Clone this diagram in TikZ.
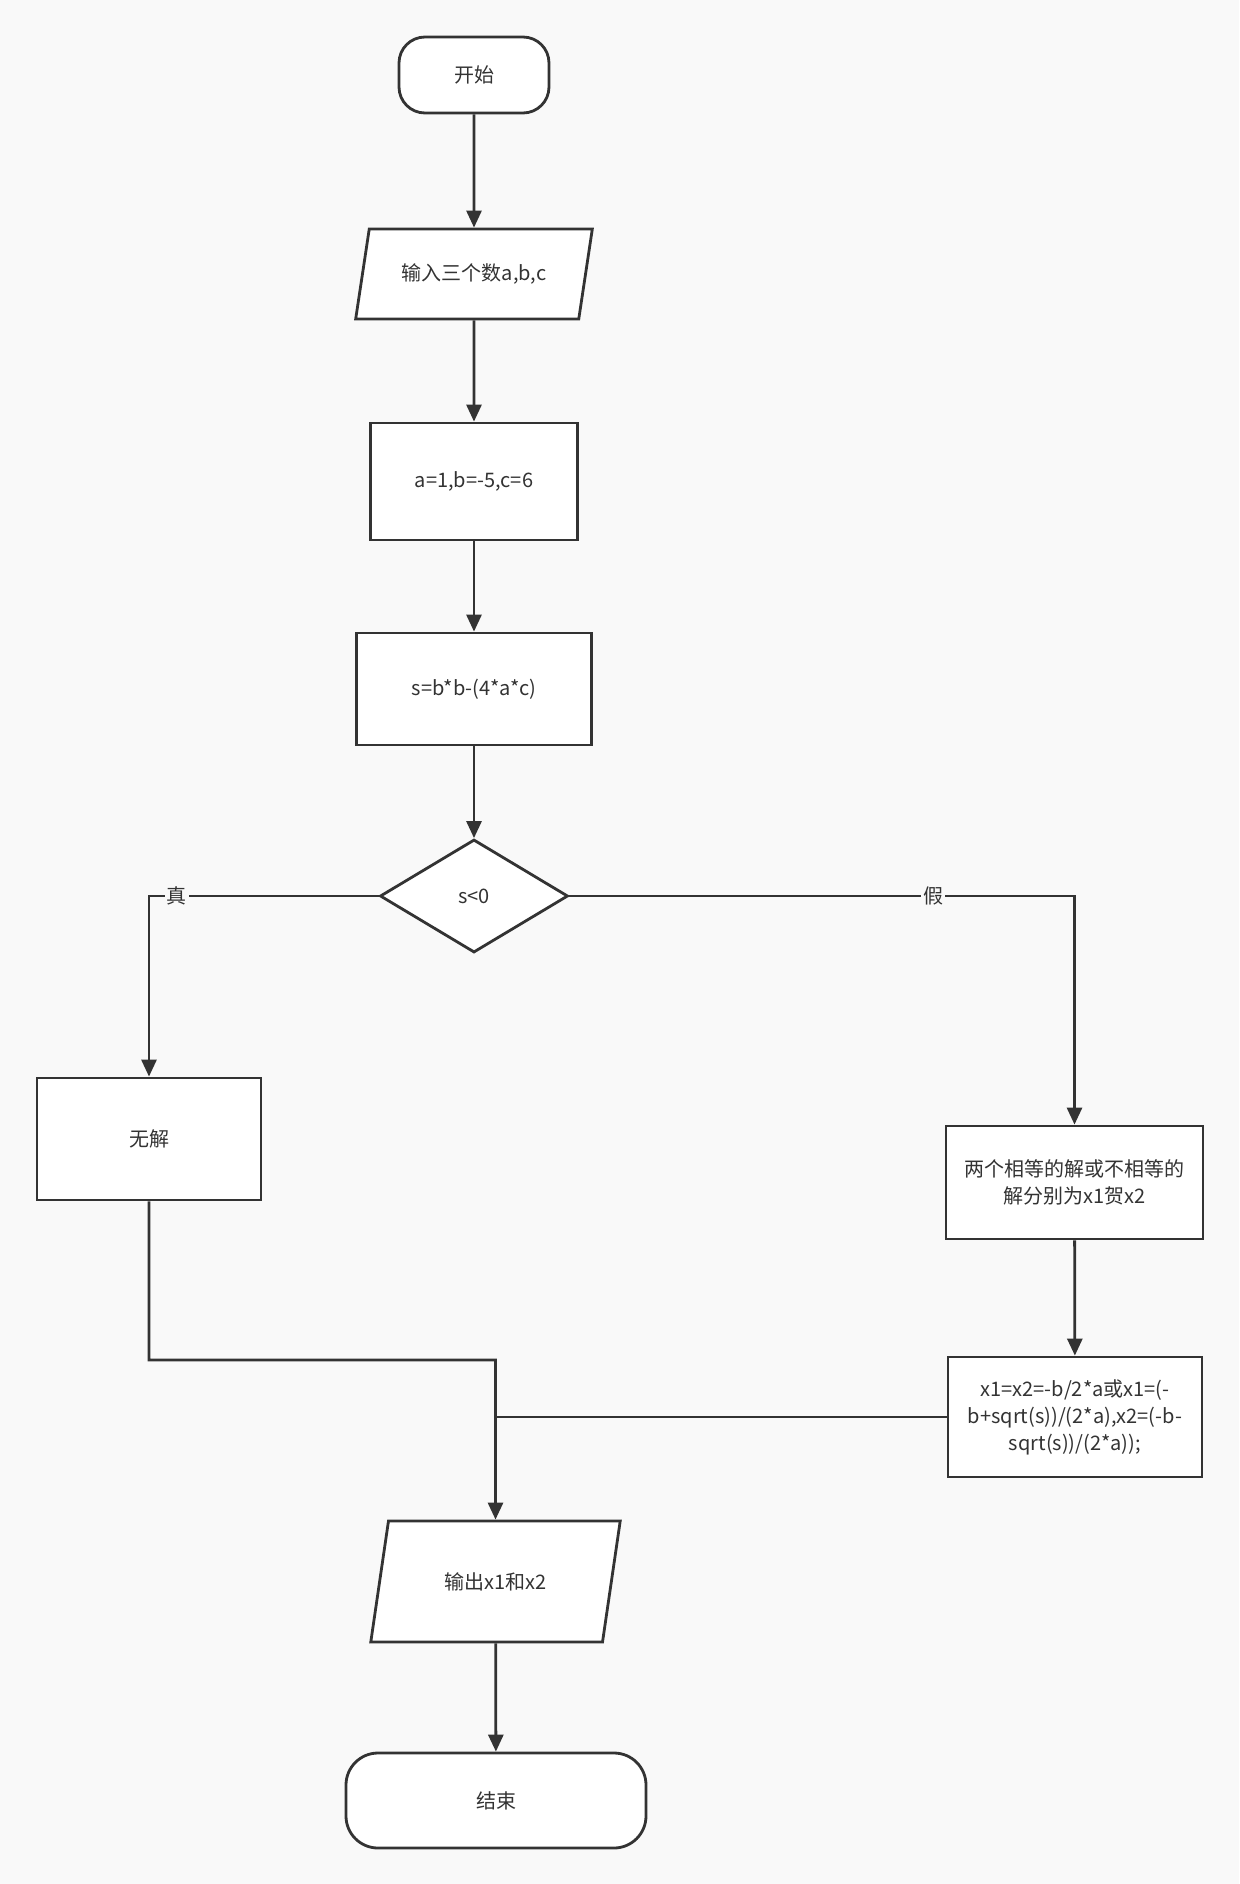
\documentclass[tikz,border=0pt]{standalone}
\usepackage{fontspec}
\setmainfont{Noto Sans CJK SC}
\usepackage{xcolor}
\usetikzlibrary{arrows.meta}
\usetikzlibrary{shapes.geometric}
\definecolor{mygray}{RGB}{51,51,51}
\definecolor{mybg}{RGB}{249,249,249}

\begin{document}
\begin{tikzpicture}[x=0.5pt,y=-0.5pt,
  every node/.style={font=\fontsize{10}{13.5}\selectfont,text=mygray},
  base/.style={draw=mygray,line width=1.4pt,fill=white,inner sep=2pt},
  terminal/.style={base,rectangle,rounded corners=13pt},
  process/.style={base,rectangle},
  io/.style={base,trapezium,trapezium left angle=71,trapezium right angle=109,trapezium stretches=true},
  decision/.style={base,diamond,inner sep=0pt},
  arr/.style={draw=mygray,line width=1.4pt,-{Triangle[length=8.5pt,width=7.5pt]}},
  line/.style={draw=mygray,line width=1.4pt},
  branch/.style={fill=mybg,inner sep=1pt}]
\fill[mybg] (0,0) rectangle (1239,1884);
\useasboundingbox (0,0) rectangle (1239,1884);

\node[terminal,minimum width=75pt,minimum height=38pt] (start) at (474,75) {开始};
\node[io,minimum width=118.5pt,minimum height=45pt] (input) at (474,274) {输入三个数a,b,c};
\node[process,minimum width=103.5pt,minimum height=58.5pt] (assign) at (474,481.5) {a=1,b=-5,c=6};
\node[process,minimum width=117.5pt,minimum height=56pt] (calc) at (474,689) {s=b*b-(4*a*c)};
\node[decision,minimum width=94pt,minimum height=56.5pt] (cond) at (474,896) {s<0};
\node[process,minimum width=112pt,minimum height=61pt] (nosol) at (149,1139) {无解};
\node[process,minimum width=128.5pt,minimum height=56.5pt,align=center] (twosol) at (1074.5,1182.5)
  {两个相等的解或不相等的\\解分别为x1贺x2};
\node[process,minimum width=127pt,minimum height=60pt,align=center] (formula) at (1075,1417)
  {x1=x2=-b/2*a或x1=(-\\b+sqrt(s))/(2*a),x2=(-b-\\sqrt(s))/(2*a));};
\node[io,minimum width=125.5pt,minimum height=60.5pt] (output) at (495.5,1581.5) {输出x1和x2};
\node[terminal,minimum width=150pt,minimum height=47.5pt,rounded corners=16pt] (stop) at (496,1800.5) {结束};

\coordinate (join) at (495.5,1360);

\draw[arr] (start) -- (input);
\draw[arr] (input) -- (assign);
\draw[arr] (assign) -- (calc);
\draw[arr] (calc) -- (cond);
\draw[arr] (cond.west) -| (nosol.north) node[branch,pos=0.44] {真};
\draw[arr] (cond.east) -| (twosol.north) node[branch,pos=0.36] {假};
\draw[arr] (twosol) -- (formula);
\draw[arr] (nosol.south) |- (join) -- (output.north);
\draw[line] (formula.west) -- (formula.west -| join);
\draw[arr] (output) -- (stop);
\end{tikzpicture}
\end{document}
